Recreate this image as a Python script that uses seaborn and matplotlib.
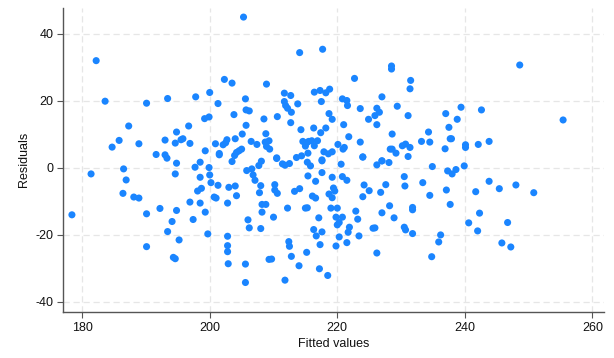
import matplotlib
matplotlib.use("Agg")
import matplotlib.pyplot as plt
import seaborn as sns
import pandas as pd

fitted = [
    182.2, 183.6, 190.1, 193.4, 197.8, 187.3, 185.8, 184.7, 188.9, 193.0,
    194.8, 196.7, 194.6, 195.5, 195.8, 196.9, 191.6, 193.0, 193.3,
    194.8, 197.7, 198.5, 181.4, 186.5, 186.9, 194.6, 186.4, 188.1, 188.9,
    192.2, 190.1, 194.8, 196.9, 198.1, 198.5, 198.5, 197.4, 194.1, 193.4,
    195.2, 190.1, 194.3, 194.6, 178.4,
    199.9, 200.0, 200.2, 201.3, 198.7, 199.3, 199.7, 200.7, 201.0, 202.8,
    203.0, 204.0, 204.2, 203.5, 203.9, 201.5, 202.8, 202.8, 202.8, 202.9,
    205.6, 205.6, 206.0, 206.2, 208.0, 205.8, 206.6, 206.8, 207.1, 207.7,
    208.1, 208.0, 207.8, 208.2, 208.8, 208.2, 210.0, 210.5, 210.2, 210.2,
    210.6, 211.4, 211.8, 212.5, 212.2, 209.3, 209.7, 211.8, 212.4, 212.5,
    212.8, 214.0, 215.2, 213.3, 214.1, 213.6, 214.4, 215.0, 215.3, 215.4,
    215.3, 215.8, 216.6, 216.1, 216.6, 217.1, 216.3, 216.7, 217.6, 217.3,
    217.2, 218.5, 217.6, 217.6, 219.2, 218.7, 219.2, 219.4, 219.6, 219.0,
    220.0, 219.8, 220.8, 220.0, 220.3, 220.3, 219.8, 221.9, 221.7, 221.5,
    223.4, 222.9, 223.2, 220.6, 220.8, 221.5, 224.2, 225.0, 224.0, 224.0,
    227.0, 226.2, 228.1, 227.6, 226.8, 228.2, 227.0, 228.9, 225.6, 225.9,
    226.2, 230.5, 230.6, 231.8, 231.8, 230.5, 230.7, 231.8, 233.4, 234.9,
    234.5, 237.3, 238.0, 238.6, 239.9, 237.1, 237.7, 236.2, 235.9, 234.8,
    240.6,
    243.8, 241.7, 245.4, 248.0, 250.8, 242.3, 242.0, 246.7, 245.8, 247.2,
    205.3, 214.1, 217.7, 202.3, 203.5, 208.9, 200.0, 201.3, 205.6, 211.7,
    212.7, 211.7, 211.9, 212.2, 212.8, 213.8, 216.4, 217.3, 218.2, 218.8,
    217.5, 218.7, 219.2, 218.2, 216.3, 217.4, 214.3, 212.7, 210.6, 208.5,
    208.8, 205.7, 206.2, 205.7, 203.8, 199.2, 199.9, 205.1, 204.0, 202.7,
    202.5, 202.1, 200.9, 199.3, 201.5, 206.5, 207.4, 208.7, 209.3, 208.9,
    209.4, 210.5, 204.2, 204.6, 205.0, 214.6, 215.2, 215.5, 216.0, 216.9,
    215.0, 215.4, 216.4, 217.9, 218.6, 219.2, 217.6,
    228.5, 228.5, 231.5, 231.4, 222.7, 220.8, 221.5, 221.6, 223.6, 227.0,
    229.4, 226.2, 226.6, 225.9, 224.9, 226.2, 231.1, 221.0, 221.8, 223.6,
    220.1, 220.9, 221.1, 224.0, 227.0, 228.6, 228.3, 228.6, 229.2, 230.2,
    230.7, 231.4, 231.1, 233.2, 234.3, 234.5, 237.0, 237.5, 238.8, 239.4,
    237.7, 237.9, 236.9, 240.1, 240.1,
    248.6, 242.6, 255.4, 242.1, 243.8,
]

residuals = [
    32.0, 19.9, 19.3, 20.7, 21.2, 12.5, 8.2, 6.2, 7.2, 8.3,
    10.7, 12.5, 7.4, 8.4, 8.7, 7.3, 4.0, 3.9, 2.9,
    1.4, 0.2, 1.7, -1.8, -0.3, -3.6, -1.8, -7.6, -8.7, -9.0,
    -12.1, -13.7, -12.7, -10.2, -6.9, -2.8, -10.5, -15.4, -16.0, -19.0,
    -21.5, -23.5, -26.7, -27.1, -14.0,
    0.1, -2.1, -4.4, -5.2, -6.1, -13.2, -19.7, -8.7, -9.0, -10.5,
    -5.8, -5.4, -8.3, 1.9, 3.7, 3.9, -20.4, -23.2, -25.0, -28.6,
    -28.7, -34.2, -15.5, -17.9, -18.1, -0.8, -0.3, -2.1, -3.7, 0.7,
    2.0, -5.3, -7.4, -10.9, -10.9, -13.2, -14.7, 2.8, -5.0, -6.6,
    -7.6, 1.2, 0.8, 1.3, -12.0, -27.3, -27.2, -33.5, -22.0, -23.4,
    -26.4, -29.2, -25.2, -7.0, -6.2, 3.1, 3.6, -12.0, -11.9, -2.4,
    1.7, 0.6, -4.0, -8.4, -9.0, -14.9, -18.4, -20.3, -19.1, -22.9,
    -30.1, -32.1, 2.1, -1.4, -2.8, -7.8, -8.9, -6.0, -6.9, -12.0,
    -12.0, -14.7, -14.7, -17.0, -16.3, -20.6, -23.3, -17.7, -19.2, -22.3,
    -20.3, -12.9, -15.3, 1.1, -2.6, -3.7, -5.1, -6.8, -8.6, 3.2,
    2.1, 0.9, 1.6, -5.0, -7.3, -11.3, -13.4, -14.9, -18.0, -17.9,
    -25.4, -2.6, -5.4, -11.8, -12.5, -17.7, -18.5, -19.6, -4.4, 0.4,
    -8.2, -0.9, -1.8, -0.5, 0.6, -6.6, -10.9, -20.0, -22.1, -26.5,
    -16.4,
    -4.0, -7.1, -6.2, -5.1, -7.4, -13.5, -18.8, -16.3, -22.4, -23.6,
    45.0, 34.4, 35.4, 26.4, 25.3, 25.0, 22.5, 19.2, 20.6, 22.3,
    21.6, 19.8, 18.6, 17.8, 16.6, 19.1, 22.6, 23.1, 22.4, 23.5,
    19.8, 16.2, 14.5, 11.9, 11.9, 10.5, 11.4, 13.5, 15.3, 14.6,
    10.2, 17.3, 17.0, 12.7, 15.9, 14.7, 15.2, 10.1, 8.7, 8.4,
    7.5, 6.9, 7.2, 5.1, 4.3, 7.9, 7.0, 7.7, 8.1, 6.4,
    5.6, 3.0, 4.6, 5.1, 5.6, 7.9, 7.5, 7.9, 8.1, 8.1,
    6.5, 4.4, 6.6, 4.8, 4.2, 4.8, 2.4,
    30.4, 29.5, 26.1, 23.6, 26.7, 20.6, 20.1, 18.6, 17.7, 21.2,
    18.4, 17.8, 16.6, 15.6, 14.5, 12.9, 15.6, 12.9, 9.3, 7.7,
    7.0, 5.6, 6.1, 3.3, 2.1, 10.1, 5.6, 5.6, 4.4, 6.6,
    7.1, 6.1, 3.4, 7.9, 10.7, 7.7, 16.2, 12.1, 14.5, 18.1,
    8.7, 8.7, 5.7, 6.9, 6.1,
    30.7, 17.3, 14.3, 7.0, 7.9,
]

x_ticks = [180, 200, 220, 240, 260]
y_ticks = [-40, -20, 0, 20, 40]

df = pd.DataFrame({"Fitted values": fitted, "Residuals": residuals})

sns.set_theme(style="white")
plt.rcParams["font.family"] = ["Liberation Sans", "DejaVu Sans"]

fig = plt.figure(figsize=(6.14, 3.58), dpi=100)
ax = fig.add_axes([0.1026, 0.1285, 0.881, 0.85])

sns.scatterplot(data=df, x="Fitted values", y="Residuals", ax=ax,
                color="#1a85ff", s=26, edgecolor="none", linewidth=0, zorder=3)

ax.set_xlim(177.0, 261.8)
ax.set_ylim(-43.0, 47.8)
ax.set_xticks(x_ticks)
ax.set_yticks(y_ticks)
ax.set_xticklabels([str(t) for t in x_ticks])
ax.set_yticklabels([str(t) for t in y_ticks])

ax.grid(True, which="major", color="#e6e6e6", linestyle=(0, (5, 3)), linewidth=0.9, zorder=0)
ax.set_axisbelow(True)

for side in ["top", "right"]:
    ax.spines[side].set_visible(False)
for side in ["left", "bottom"]:
    ax.spines[side].set_color("#555555")
    ax.spines[side].set_linewidth(1.0)

ax.tick_params(axis="both", which="major", direction="out", length=4, width=0.8,
               color="#555555", labelsize=9, labelcolor="#111111", pad=3,
               bottom=True, left=True)
ax.set_xlabel("Fitted values", fontsize=9, color="#111111", labelpad=3)
ax.set_ylabel("Residuals", fontsize=9, color="#111111", labelpad=4)

fig.patch.set_facecolor("white")
ax.set_facecolor("white")
fig.savefig("out.png", dpi=100)
